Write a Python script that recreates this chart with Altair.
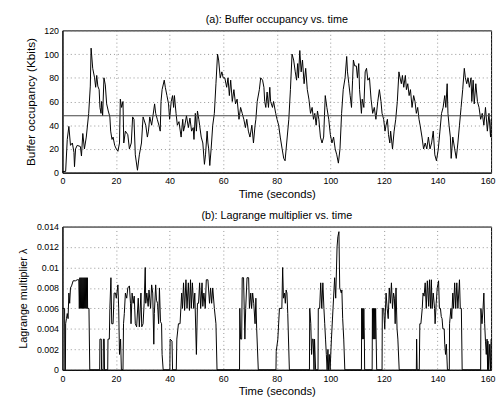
import altair as alt
import pandas as pd

# ---- (a) buffer occupancy (Kbits) ----
t_a = [0, 1.2, 1.8, 2.4, 3.0, 3.7, 4.3, 4.5, 4.9, 5.5, 6.7, 7.1, 7.6, 8.2, 8.9, 9.8, 10.4, 10.7, 11.3, 12.0,
       12.4, 12.8, 13.2, 13.7, 14.0, 14.4, 14.6, 15.0, 15.5, 16.0, 16.5, 17.1, 17.7, 18.0, 18.5, 18.9, 19.5, 20.1,
       20.7, 21.3, 21.6, 22.1, 22.6, 22.9, 23.5, 24.4, 25.0, 25.7, 26.2, 26.7, 27.2, 28.0, 28.7, 29.5, 30.1, 31.1,
       31.7, 32.1, 32.6, 33.3, 33.8, 34.4, 34.8, 35.4, 36.0, 36.5, 36.8, 37.2, 38.0, 38.4, 39.0, 39.6, 40.0, 40.6,
       41.1, 41.5, 41.8, 42.4, 42.9, 43.5, 44.3, 44.9, 45.2, 45.7, 46.3, 47.0, 47.6, 48.2, 48.8, 49.1, 49.6, 50.0,
       50.4, 50.9, 51.2, 51.8, 52.4, 53.0, 53.4, 54.0, 54.3, 54.6, 55.0, 55.5, 56.1, 56.7, 57.3, 57.9, 58.3, 58.9,
       59.5, 60.0, 60.6, 61.3, 61.8, 62.3, 62.8, 63.4, 64.0, 64.6, 65.2, 65.9, 66.5, 67.1, 67.7, 68.3,
       68.8, 69.4, 70.0, 70.7, 71.3, 71.9, 72.2, 72.7, 73.5, 74.0, 74.7, 75.2, 75.5, 75.9, 76.4, 76.9, 77.4, 77.7,
       78.4, 78.8, 79.6, 80.1, 80.7, 81.3, 82.0, 82.6, 83.1, 83.7, 84.5, 85.1, 85.7, 86.3, 86.9, 87.4, 87.8, 88.1,
       88.6, 89.1, 89.6, 90.2, 90.8, 91.4, 92.0, 92.6, 93.2, 93.7, 94.2, 94.7, 95.2, 95.7, 96.3, 96.9, 97.5, 98.1,
       98.7, 99.4, 100.0, 100.6, 101.2, 101.8, 102.4, 103.0, 103.6, 104.2, 104.8, 105.5, 106.1, 106.4, 106.9,
       107.4, 107.9, 108.3, 108.6, 109.1, 109.7, 110.1, 110.6, 110.9, 111.6, 111.9, 112.5, 113.0, 113.5, 114.0,
       114.6, 115.2, 115.8, 116.4, 117.0, 117.7, 118.3, 118.9, 119.3, 119.9, 120.4, 120.8, 121.3, 121.7, 122.2,
       122.5, 123.2, 123.8, 124.4, 125.0, 125.6, 126.0, 126.5, 126.9, 127.4, 128.0, 128.4, 128.9, 129.4, 129.9,
       130.5, 131.1, 131.6, 132.1, 132.6, 133.1, 133.5, 134.2, 134.8, 135.4, 136.0, 136.6, 137.2, 137.8, 138.4,
       139.0, 139.6, 140.3, 140.9, 141.5, 142.1, 142.7, 143.1, 143.6, 143.9, 144.3, 144.8, 145.1, 145.7, 146.4,
       147.0, 147.6, 148.2, 148.8, 149.4, 150.0, 150.4, 150.9, 151.4, 151.9, 152.5, 152.8, 153.3, 153.7, 154.3,
       154.9, 155.5, 156.1, 156.7, 157.3, 157.9, 158.6, 159.2, 159.8, 160.0]
buf = [1, 1, 28, 39, 23, 25, 17, 5, 20, 23, 22, 14, 33, 20, 30, 50, 73, 105, 88, 80,
       72, 82, 73, 70, 55, 50, 60, 48, 80, 74, 58, 52, 47, 35, 28, 30, 23, 20,
       18, 25, 62, 55, 60, 25, 35, 32, 20, 25, 47, 45, 15, 2, 15, 25, 47, 40,
       30, 35, 47, 40, 48, 58, 50, 45, 40, 35, 60, 70, 78, 72, 65, 58, 45, 60,
       65, 55, 65, 50, 40, 43, 30, 45, 35, 40, 48, 38, 46, 35, 38, 28, 50, 35,
       52, 45, 40, 30, 25, 7, 15, 35, 25, 20, 6, 20, 40, 50, 75, 100, 95, 80,
       85, 80, 80, 72, 80, 65, 78, 60, 70, 58, 62, 45, 55, 50, 45, 38,
       45, 35, 30, 40, 25, 40, 45, 60, 70, 80, 78, 72, 60, 55, 68, 55, 72, 60,
       55, 60, 50, 45, 40, 30, 20, 12, 10, 25, 45, 70, 100, 95, 85, 78, 92, 80,
       103, 85, 95, 75, 88, 70, 62, 50, 55, 45, 50, 40, 52, 45, 30, 25, 30, 65,
       55, 45, 32, 25, 30, 20, 15, 8, 20, 50, 70, 80, 98, 85, 75,
       65, 55, 78, 95, 90, 90, 80, 92, 70, 50, 62, 55, 85, 88, 78,
       80, 62, 50, 55, 45, 60, 70, 60, 50, 45, 35, 40, 45, 32, 25,
       35, 20, 35, 45, 60, 85, 80, 75, 82, 72, 82, 70, 75, 65, 70,
       55, 65, 60, 50, 55, 45, 40, 30, 20, 25, 20, 30, 20, 25, 35,
       15, 10, 20, 35, 50, 55, 65, 55, 75, 50, 40, 30, 12, 30, 20,
       12, 25, 40, 55, 70, 88, 80, 75, 80, 72, 80, 60, 78, 58, 75,
       60, 55, 45, 50, 40, 55, 35, 50, 30, 45]
ref_level = [48]

# ---- (b) Lagrange multiplier ----
t_b = [0, 0.8, 0.9, 1.1, 1.2, 1.5, 1.8, 2.1, 2.4, 2.7, 3.0, 3.4, 4.0, 4.9, 5.5, 6.1,
       6.3, 6.5, 6.7, 6.9, 7.1, 7.3, 7.5, 7.7, 7.9, 8.1, 8.3, 8.5, 8.7, 8.9, 9.1, 9.3, 9.4, 9.9, 10.2,
       13.9, 14.0, 14.5, 14.6, 15.2, 15.3, 15.6, 15.7, 16.9, 17.0, 17.5, 17.7, 18.1, 18.4, 18.9, 19.3, 19.8,
       20.1, 20.7, 21.0, 21.3, 21.7, 22.0, 22.6, 22.8, 23.1, 23.5, 24.0, 24.4, 25.0, 25.4, 25.6, 26.0, 26.4,
       26.8, 27.2, 27.7, 28.3, 28.7, 29.3, 29.6, 30.1, 30.5, 30.9, 31.1, 31.5, 32.0, 32.3, 32.9, 33.3, 33.7,
       34.1, 34.3, 34.8, 35.1, 35.5, 35.9, 36.2, 36.6, 37.0, 37.2, 37.6,
       40.1, 40.2, 40.9, 41.1, 42.5, 42.7, 43.3, 43.9, 44.2, 44.5, 44.8, 45.2, 45.6, 46.1, 46.5, 47.0, 47.4,
       47.8, 48.1, 48.5, 49.0, 49.4, 50.0, 50.4, 50.8, 51.2, 51.6, 52.1, 52.4, 52.8, 53.3, 53.7, 54.3, 54.9,
       55.3, 55.7, 56.1, 56.7, 57.3, 57.7,
       66.1, 66.2, 66.5, 66.9, 67.1, 67.6, 68.1, 68.4, 68.9, 69.5, 69.8, 70.3, 70.6, 71.0, 71.4, 71.9, 72.2,
       72.5, 73.1,
       79.7, 79.8, 80.4, 81.0, 81.9, 82.2, 82.5, 82.9, 83.2, 83.5, 83.8, 84.1, 84.7,
       92.2, 92.3, 92.7, 93.0, 93.3, 93.6, 93.9, 94.1, 94.5, 95.4, 95.5, 96.0, 96.4, 96.8, 97.2, 97.6, 97.9,
       98.2, 98.5, 98.8, 99.1, 99.3, 99.6, 99.9, 100.4, 101.0, 101.6, 102.0, 102.5, 102.8, 103.2, 103.5,
       104.1, 104.3, 104.6, 105.0, 105.4,
       111.6, 111.7, 111.9, 112.1, 112.3, 112.5, 112.7, 112.8, 115.6, 115.7, 115.9, 116.1, 116.3, 116.5,
       116.7, 116.9, 117.1, 117.3,
       119.3, 119.4, 119.9, 120.3, 120.8, 121.2, 121.6, 122.0, 122.4, 122.8, 123.2, 123.6, 123.9, 124.2,
       124.5, 124.9, 125.2, 125.7,
       132.1, 132.2, 132.4, 133.2, 133.4, 133.8, 134.3, 134.6, 135.0, 135.4, 135.8, 136.2, 136.7, 137.0,
       137.4, 137.7, 138.0, 138.4, 138.9, 139.1, 139.5, 139.9, 140.4, 140.7, 141.1, 141.4, 141.7, 142.0,
       142.5, 142.7, 143.0, 143.3, 143.7, 144.4, 144.5, 145.0, 145.3, 145.7, 146.0, 146.4, 146.8, 147.2,
       147.6, 148.2, 148.5, 148.9, 149.2,
       156.1, 156.2, 156.6, 157.0, 157.3, 157.6, 157.9, 158.2, 158.5, 158.7, 158.8, 159.1, 159.5, 159.8, 160.0]
lam = [0.006, 0.006, 0, 0, 0.0045, 0.005, 0.0055, 0.005, 0.0075, 0.0065, 0.008, 0.0082, 0.0087, 0.0087, 0.0088, 0.0088,
       0.006, 0.009, 0.006, 0.009, 0.006, 0.009, 0.006, 0.009, 0.006, 0.009, 0.006, 0.009, 0.006, 0.009, 0.006, 0.009, 0.006, 0.006, 0,
       0, 0.003, 0.003, 0, 0, 0.003, 0.003, 0, 0, 0.003, 0.003, 0.006, 0.009, 0.0045, 0.0045, 0.0075, 0.0075,
       0.007, 0.0083, 0.006, 0.0015, 0.003, 0, 0, 0.0045, 0.0055, 0.0075, 0.007, 0.008, 0.0082, 0.0065, 0.0045, 0.0075, 0.0065,
       0.0072, 0.0045, 0.0042, 0.007, 0.0042, 0.0075, 0.0042, 0.0045, 0.0065, 0.01, 0.0065, 0.0075, 0.0062, 0.0078, 0.006, 0.0083, 0.0075,
       0.0025, 0.0055, 0.0083, 0.0068, 0.0065, 0.0045, 0.008, 0.0047, 0.0045, 0.0015, 0,
       0, 0.003, 0.0028, 0, 0, 0.003, 0.0045, 0.0045, 0.006, 0.0075, 0.006, 0.0085, 0.0058, 0.0088, 0.006, 0.0085, 0.0058,
       0.0088, 0.006, 0.0085, 0.006, 0.0075, 0.0015, 0.0065, 0.0065, 0.0085, 0.006, 0.0085, 0.0062, 0.0075, 0.006, 0.0088, 0.0088, 0.0065,
       0.008, 0.0065, 0.008, 0.006, 0.0045, 0,
       0, 0.006, 0.003, 0.003, 0.009, 0.009, 0.003, 0.006, 0.009, 0.009, 0.006, 0.0075, 0.006, 0.0075, 0.0065, 0.0045, 0.007,
       0.004, 0,
       0, 0.0018, 0.003, 0.006, 0.006, 0.01, 0.007, 0.0075, 0.0065, 0.0078, 0.0075, 0.0055, 0,
       0, 0.006, 0.0045, 0.0015, 0.003, 0.003, 0, 0.003, 0, 0, 0.006, 0.006, 0.0085, 0.006, 0.0085, 0.006, 0.0045,
       0.003, 0.0015, 0, 0.002, 0, 0.0015, 0, 0.003, 0.006, 0.009, 0.007, 0.012, 0.013, 0.0135, 0.008,
       0.0075, 0.0078, 0.005, 0.003, 0,
       0, 0.006, 0.003, 0.006, 0.003, 0.006, 0.003, 0, 0, 0.006, 0.003, 0.006, 0.003, 0.006,
       0.003, 0.006, 0.003, 0,
       0, 0.006, 0.006, 0.004, 0.0075, 0.006, 0.005, 0.008, 0.0065, 0.0085, 0.006, 0.0075, 0.007, 0.0045,
       0.008, 0.004, 0.003, 0,
       0, 0.003, 0, 0, 0.0045, 0.0045, 0.006, 0.0075, 0.0072, 0.0085, 0.006, 0.0087, 0.0062, 0.0088,
       0.006, 0.0088, 0.006, 0.0075, 0.006, 0.0045, 0.0065, 0.008, 0.0087, 0.006, 0.006, 0.0052, 0.005, 0.004,
       0.004, 0.0025, 0.0015, 0.0025, 0, 0, 0.0045, 0.006, 0.005, 0.0075, 0.006, 0.0085, 0.006, 0.0085,
       0.006, 0.0088, 0.006, 0.006, 0,
       0, 0.006, 0.0045, 0.006, 0.0075, 0.0045, 0.0028, 0.0015, 0.003, 0, 0.0028, 0, 0.0025, 0, 0.003]

x_ticks = [0, 20, 40, 60, 80, 100, 120, 140, 160]
y_ticks_a = [0, 20, 40, 60, 80, 100, 120]
y_ticks_b = [0, 0.002, 0.004, 0.006, 0.008, 0.01, 0.012, 0.014]

df_a = pd.DataFrame({"t": t_a, "v": buf})
df_b = pd.DataFrame({"t": t_b, "v": lam})
df_ref = pd.DataFrame({"v": ref_level})

FONT = "Liberation Sans"
W = 437

LAST_ALIGN = {"condition": {"test": "datum.value >= 160", "value": "right"}, "value": "center"}
LAST_OFFSET = {"condition": {"test": "datum.value >= 160", "value": 4}, "value": 0}


def x_enc(label_pad, title_pad):
    return alt.X("t:Q", scale=alt.Scale(domain=[0, 160], nice=False),
                 axis=alt.Axis(title="Time (seconds)", values=x_ticks, labelPadding=label_pad,
                               titlePadding=title_pad, labelAlign=LAST_ALIGN,
                               labelOffset=LAST_OFFSET))


y_axis_a = alt.Axis(title="Buffer occupancy (Kbits)", values=y_ticks_a, titlePadding=6,
                    titleFontSize=12, labelOverlap=False)

line_a = alt.Chart(df_a).mark_line(color="black", strokeWidth=1).encode(
    x=x_enc(4, 3),
    y=alt.Y("v:Q", scale=alt.Scale(domain=[0, 120], nice=False), axis=y_axis_a),
)
rule_a = alt.Chart(df_ref).mark_rule(color="#444444", strokeWidth=1.2).encode(
    y=alt.Y("v:Q", axis=y_axis_a)
)

top = alt.layer(line_a, rule_a).properties(
    width=W, height=145,
    title=alt.TitleParams("(a): Buffer occupancy vs. time", fontSize=11, fontWeight="normal",
                          font=FONT, offset=2),
)

bottom = alt.Chart(df_b).mark_line(color="black", strokeWidth=1).encode(
    x=x_enc(5, 2),
    y=alt.Y("v:Q", scale=alt.Scale(domain=[0, 0.014], nice=False),
            axis=alt.Axis(title="Lagrange multiplier λ", format=".3~f", values=y_ticks_b,
                          titlePadding=8, titleFontSize=11, labelOverlap=False)),
).properties(
    width=W, height=146,
    title=alt.TitleParams("(b): Lagrange multiplier vs. time", fontSize=11, fontWeight="normal",
                          font=FONT, offset=1.5),
)

chart = alt.vconcat(top, bottom, spacing=10).properties(
    padding={"left": 8.5, "top": 1, "right": 0, "bottom": 0},
    background="white",
).configure_view(
    stroke="black", strokeWidth=1,
).configure_axis(
    labelFont=FONT, titleFont=FONT, labelFontSize=9, titleFontSize=11.5,
    titleFontWeight="normal", labelColor="black", titleColor="black",
    grid=True, gridColor="#777777", gridDash=[1, 3], gridWidth=0.8,
    domain=True, domainColor="black", ticks=True, tickSize=0, labelPadding=4,
).configure_title(anchor="middle", color="black")

chart.save("out.html", embed_options={"renderer": "svg", "actions": False})
